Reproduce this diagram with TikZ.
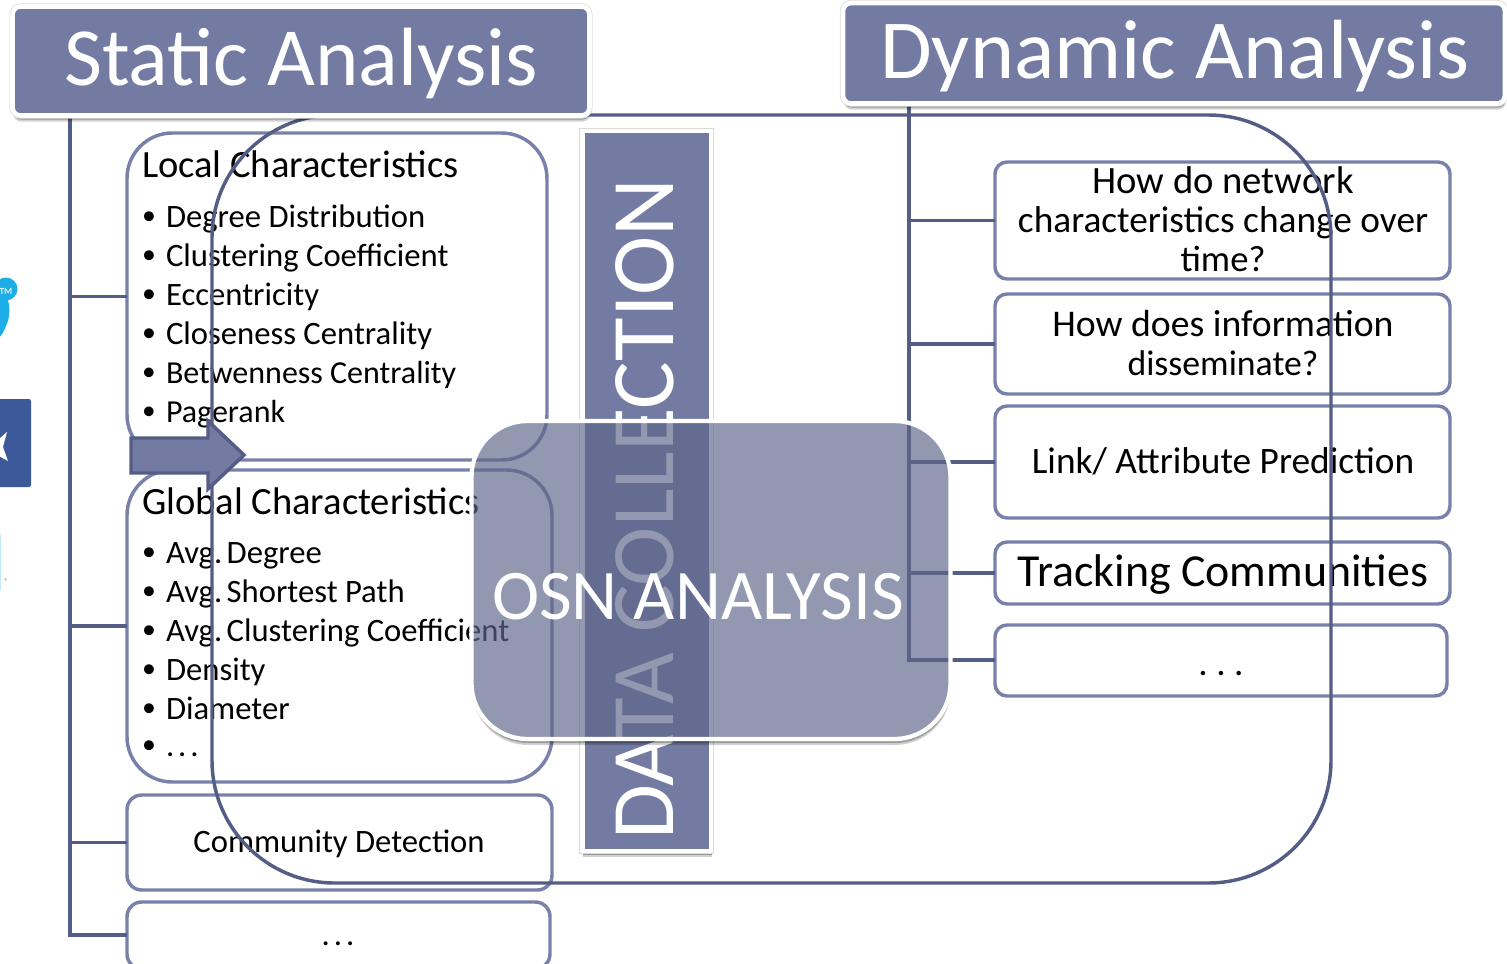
\documentclass[tikz,border=0pt]{standalone}
\usepackage{fontspec}
\setmainfont{Carlito}
\usetikzlibrary{shapes.arrows,shadows,calc}
\definecolor{barblue}{HTML}{737BA3}
\definecolor{linedark}{HTML}{545D85}
\definecolor{boxline}{HTML}{7981AB}
\definecolor{overlayc}{HTML}{5D6689}
\definecolor{birdblue}{HTML}{1DAEE8}
\definecolor{fbblue}{HTML}{3C5A9A}
\newcommand{\fs}[1]{\fontsize{#1}{1.2\dimexpr#1pt\relax}\selectfont}
\newcommand{\bl}{\makebox[18pt][l]{\raisebox{1.6pt}{\scalebox{.85}{•}}}}
\newcommand{\avg}{Avg.\kern-2.2pt\ }
\newcommand{\spdots}{.\kern3pt.\kern3pt.}
\tikzset{
 every node/.style={outer sep=0pt},
 x=0.75pt,y=-0.75pt,
 softshadow/.style={drop shadow={shadow xshift=.6pt,shadow yshift=-4.6pt,opacity=.18,fill=black},
   drop shadow={shadow xshift=.6pt,shadow yshift=-3pt,opacity=.28,fill=black},
   preaction={draw=black!14,line width=4.6pt}},
 headbox/.style={draw=white,line width=3.5pt,rounded corners=6pt,fill=barblue,softshadow},
 headtext/.style={text=white,inner sep=0pt,anchor=base},
 ibox/.style={draw=boxline,line width=2.6pt,fill=white,inner sep=0pt},
 trunk/.style={draw=linedark,line width=2.6pt},
 bigloop/.style={draw=linedark,line width=2.6pt,rounded corners=92pt},
 lab/.style={inner sep=0pt,text=black,anchor=base},
 lst/.style={inner sep=0pt,text=black,anchor=base west,align=left},
}
\begin{document}
\begin{tikzpicture}
\useasboundingbox (0,0) rectangle (1507,964);
\begin{scope}
\clip (0,0) rectangle (1507,964);
% logo remnants
\fill[birdblue] (-2,285) -- (6,295) .. controls (11,305) and (10,318) .. (6,326) .. controls (4,331) and (2,335) .. (-2,339) -- cycle;
\fill[birdblue] (6,289) circle[radius=11.5];
\node[inner sep=0pt,text=white!85!birdblue,font=\fs{7}\bfseries] (tmmark) at (6,291) {TM};
\fill[fbblue,rounded corners=1.5pt] (-6,399) rectangle (31,487);
\fill[white] (-1,439) -- (7,432) -- (3,447) -- (8,461) -- (-1,456) -- cycle;
\fill[cyan!25] (0,535) rectangle (1.2,590);
\node[inner sep=0pt,text=black!60,font=\fs{5}] (regmark) at (6,581) {®};

% panels
\node[ibox,rounded corners=34pt,minimum width=315pt,minimum height=245.25pt,anchor=north west] (local) at (127,133) {};
\node[ibox,rounded corners=34pt,minimum width=318.75pt,minimum height=234pt,anchor=north west] (global) at (127,470) {};
\node[ibox,rounded corners=11pt,minimum width=318.75pt,minimum height=71.25pt,anchor=north west] (comm) at (127,795) {};
\node[ibox,rounded corners=11pt,minimum width=317.25pt,minimum height=50pt,anchor=north west] (more) at (127,902) {};
\node[ibox,draw=boxline,rounded corners=9pt,minimum width=341.25pt,minimum height=87.75pt,anchor=north west] (q1) at (995,162) {};
\node[ibox,rounded corners=9pt,minimum width=341.25pt,minimum height=75pt,anchor=north west] (q2) at (995,294) {};
\node[ibox,rounded corners=9pt,minimum width=341.25pt,minimum height=84pt,anchor=north west] (q3) at (995,406) {};
\node[ibox,rounded corners=9pt,minimum width=341.25pt,minimum height=46.5pt,anchor=north west] (q4) at (995,542) {};
\node[ibox,rounded corners=9pt,minimum width=339pt,minimum height=53.25pt,anchor=north west] (q5) at (995,625) {};

% panel text
\node[lab,anchor=base west,font=\fs{28.9}] (localt) at (142,177) {Local Characteristics};
\node[lst,font=\fs{24.5}] (l1) at (142,227) {\bl Degree Distribution};
\node[lst,font=\fs{24.5}] (l2) at (142,266) {\bl Clustering Coefficient};
\node[lst,font=\fs{24.5}] (l3) at (142,305) {\bl Eccentricity};
\node[lst,font=\fs{24.5}] (l4) at (142,344) {\bl Closeness Centrality};
\node[lst,font=\fs{24}] (l5) at (142,383) {\bl Betwenness Centrality};
\node[lst,font=\fs{24}] (l6) at (142,422) {\bl Pagerank};
\node[lab,anchor=base west,font=\fs{28.9}] (globalt) at (142,514) {Global Characteristics};
\node[lst,font=\fs{24.5}] (g1) at (142,563) {\bl \avg Degree};
\node[lst,font=\fs{24.5}] (g2) at (142,602) {\bl \avg Shortest Path};
\node[lst,font=\fs{24.5}] (g3) at (142,641) {\bl \avg Clustering Coefficient};
\node[lst,font=\fs{24.5}] (g4) at (142,680) {\bl Density};
\node[lst,font=\fs{24.5}] (g5) at (142,719) {\bl Diameter};
\node[lst,font=\fs{24.5}] (g6) at (142,756) {\bl \spdots};
\node[lab,font=\fs{24.5}] (commt) at (339,852) {Community Detection};
\node[lab,font=\fs{24.5}] (moret) at (338,945) {\spdots};
\node[lab,font=\fs{29}] (q1a) at (1223,193) {How do network};
\node[lab,font=\fs{28}] (q1b) at (1223,232) {characteristics change over};
\node[lab,font=\fs{27.5}] (q1c) at (1223,271) {time?};
\node[lab,font=\fs{28.3}] (q2a) at (1223,336) {How does information};
\node[lab,font=\fs{26.8}] (q2b) at (1223,375) {disseminate?};
\node[lab,font=\fs{28}] (q3t) at (1223,473) {Link/ Attribute Prediction};
\node[lab,font=\fs{34.4}] (q4t) at (1223,586) {Tracking Communities};
\node[lab,font=\fs{28}] (q5t) at (1221,675) {.\kern6.4pt.\kern6.4pt.};

% trunks and branches
\coordinate (ltop) at (70,118);
\coordinate (lbot) at (70,935);
\coordinate (rtop) at (909,105);
\coordinate (rbot) at (909,660);
\draw[trunk,line join=miter] (ltop) -- (lbot) -- (lbot -| more.west);
\draw[trunk] (ltop |- local.west) -- (local.west);
\draw[trunk] (ltop |- global.west) -- (global.west);
\draw[trunk] (ltop |- comm.west) -- (comm.west);
\draw[trunk,line join=miter] (rtop) -- (rbot) -- (rbot -| q5.west);
\draw[trunk] (rtop |- q1.west) -- (q1.west);
\draw[trunk] (rtop |- q2.west) -- (q2.west);
\draw[trunk] (rtop |- q3.west) -- (q3.west);
\draw[trunk] (rtop |- q4.west) -- (q4.west);

% big loop
\node[bigloop,minimum width=839.25pt,minimum height=576pt,anchor=north west,inner sep=0pt] (loop) at (212,115) {};

% headers
\node[headbox,minimum width=432.75pt,minimum height=81.75pt,anchor=north west,inner sep=0pt] (static) at (12.5,6.5) {};
\node[headtext,font=\fs{62}] (statict) at (301,85) {Static Analysis};
\node[headbox,minimum width=496.5pt,minimum height=75.4pt,anchor=north west,inner sep=0pt] (dynamic) at (843,3) {};
\node[headtext,font=\fs{63}] (dynamict) at (1175,78) {Dynamic Analysis};

% data collection bar
\node[draw=white,line width=3.5pt,fill=barblue,softshadow,minimum width=96.4pt,minimum height=540pt,anchor=north west,inner sep=0pt] (bar) at (582.5,131) {};
\node[headtext,font=\fs{67},rotate=90,anchor=base] (bart) at (673,509) {DATA COLLECTION};

% arrow
\draw[draw=linedark,line width=2.6pt,fill=barblue,line join=miter] (131,438) -- (208,438) -- (208,421) -- (244,455) -- (208,489) -- (208,473) -- (131,473) -- cycle;

% overlay shadow, kept outside the translucent panel
\begin{scope}[even odd rule]
\clip (460,410) rectangle (970,770) [rounded corners=42pt] (471.5,421) rectangle (950.5,739);
\fill[black,opacity=.18,rounded corners=42pt] (472,427) rectangle (951,745);
\fill[black,opacity=.25,rounded corners=42pt] (472,425) rectangle (951,743);
\end{scope}
\node[rounded corners=42pt,draw=white,line width=3.2pt,fill=overlayc,fill opacity=.67,draw opacity=1,minimum width=359.25pt,minimum height=238.5pt,anchor=north west,inner sep=0pt] (osn) at (471.5,421) {};
\node[headtext,font=\fs{53.4}] (osnt) at (698,619) {OSN ANALYSIS};
\end{scope}
\end{tikzpicture}
\end{document}
